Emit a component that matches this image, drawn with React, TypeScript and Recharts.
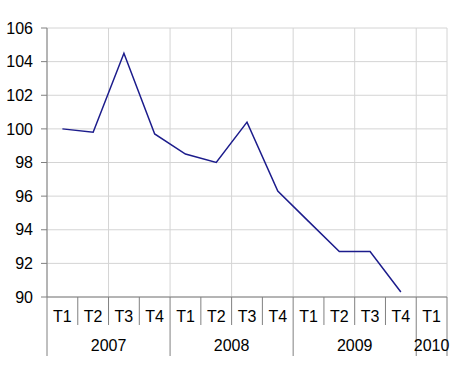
import { LineChart, Line, XAxis, YAxis, CartesianGrid } from 'recharts'

const quarters = ['T1', 'T2', 'T3', 'T4', 'T1', 'T2', 'T3', 'T4', 'T1', 'T2', 'T3', 'T4', 'T1']
const years = ['2007', '2008', '2009', '2010']
const values = [100, 99.8, 104.5, 99.7, 98.5, 98.0, 100.4, 96.3, 94.5, 92.7, 92.7, 90.3, null]
const yTicks = [90, 92, 94, 96, 98, 100, 102, 104, 106]

const data = quarters.map((q, i) => ({ i, q, v: values[i] }))
const centers = quarters.map((_, i) => i)
// grid lines every two quarters, on the category edges
const gridEdges = [-0.5, 1.5, 3.5, 5.5, 7.5, 9.5, 11.5, 12.5]

const AXIS = '#808080'
const FONT = '"Liberation Sans", Arial, sans-serif'

function QuarterTick (props: any) {
  const { x, y, payload, width } = props
  const i = payload.value as number
  const bw = width / quarters.length
  const yearStart = i % 4 === 0
  const last = i === quarters.length - 1
  const span = Math.min(4, quarters.length - i)
  return (
    <g>
      <text x={x} y={y + 25} textAnchor="middle" fontSize={16} fill="#000">{quarters[i]}</text>
      <line x1={x - bw / 2} x2={x - bw / 2} y1={y} y2={y + (yearStart ? 59 : 28)} stroke={AXIS} />
      {last && <line x1={x + bw / 2} x2={x + bw / 2} y1={y} y2={y + 59} stroke={AXIS} />}
      {yearStart && (
        <text x={x - bw / 2 + (span * bw) / 2} y={y + 54} textAnchor="middle" fontSize={16} fill="#000">
          {years[i / 4]}
        </text>
      )}
    </g>
  )
}

export default function App () {
  return (
    <div style={{ position: 'absolute', left: 0, top: 0 }}>
      <LineChart
        width={450}
        height={365}
        data={data}
        margin={{ top: 28, right: 3, left: 0, bottom: 0 }}
        style={{ fontFamily: FONT }}
      >
        <CartesianGrid xAxisId="grid" stroke="#d4d4d4" />
        <XAxis
          xAxisId="lab"
          type="number"
          dataKey="i"
          domain={[-0.5, 12.5]}
          ticks={centers}
          interval={0}
          height={68}
          tickLine={false}
          tickSize={0}
          tickMargin={0}
          axisLine={{ stroke: AXIS }}
          tick={<QuarterTick />}
        />
        <XAxis
          xAxisId="grid"
          type="number"
          dataKey="i"
          domain={[-0.5, 12.5]}
          ticks={gridEdges}
          interval={0}
          height={0}
          hide
        />
        <YAxis
          domain={[90, 106]}
          ticks={yTicks}
          interval={0}
          width={47}
          tickSize={6}
          tickMargin={8}
          axisLine={{ stroke: AXIS }}
          tickLine={{ stroke: AXIS }}
          tick={{ fontSize: 16, fill: '#000' }}
        />
        <Line
          xAxisId="lab"
          type="linear"
          dataKey="v"
          stroke="#1c1c8c"
          strokeWidth={1.5}
          dot={false}
          isAnimationActive={false}
        />
      </LineChart>
    </div>
  )
}
